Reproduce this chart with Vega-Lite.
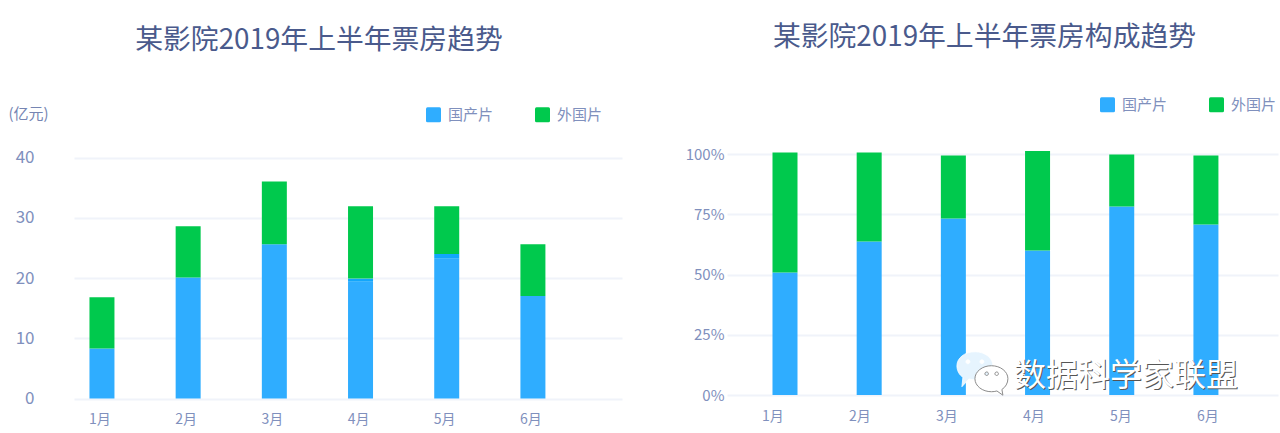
{
  "$schema": "https://vega.github.io/schema/vega-lite/v6.json",
  "background": "white",
  "padding": {"left": 7, "top": 23, "right": 2, "bottom": 8},
  "bounds": "flush",
  "spacing": 105,
  "resolve": {"legend": {"color": "independent"}},
  "config": {
    "font": "Noto Sans CJK SC",
    "view": {"stroke": null},
    "title": {"font": "Noto Sans CJK SC", "fontSize": 27.8, "fontWeight": 400, "color": "#4a5a8c", "anchor": "middle"},
    "axis": {"labelFont": "Noto Sans CJK SC", "titleFont": "Noto Sans CJK SC", "labelColor": "#8090bd", "titleColor": "#7685b3", "domain": false, "ticks": false, "gridColor": "#f0f3fa", "gridWidth": 2},
    "legend": {"labelFont": "Noto Sans CJK SC", "labelColor": "#8090bd", "labelFontSize": 15}
  },
  "datasets": {
    "boxoffice": [
      {"月份": "1月", "类型": "国产片", "票房": 8.3, "占比": 50.8},
      {"月份": "1月", "类型": "外国片", "票房": 8.5, "占比": 49.8},
      {"月份": "2月", "类型": "国产片", "票房": 20.1, "占比": 63.7},
      {"月份": "2月", "类型": "外国片", "票房": 8.5, "占比": 36.9},
      {"月份": "3月", "类型": "国产片", "票房": 25.6, "占比": 73.2},
      {"月份": "3月", "类型": "外国片", "票房": 10.4, "占比": 26.2},
      {"月份": "4月", "类型": "国产片", "票房": 19.4, "占比": 60},
      {"月份": "4月", "类型": "国产片叠加", "票房": 0.5, "占比": 0},
      {"月份": "4月", "类型": "外国片", "票房": 12, "占比": 41.2},
      {"月份": "5月", "类型": "国产片", "票房": 23.2, "占比": 78.2},
      {"月份": "5月", "类型": "国产片叠加", "票房": 0.8, "占比": 0},
      {"月份": "5月", "类型": "外国片", "票房": 7.9, "占比": 21.6},
      {"月份": "6月", "类型": "国产片", "票房": 17, "占比": 70.7},
      {"月份": "6月", "类型": "外国片", "票房": 8.6, "占比": 28.7}
    ],
    "watermark": [
      {"月份": "4月", "占比": 8, "文字": "数据科学家联盟"}
    ]
  },
  "hconcat": [
    {
      "width": 548,
      "height": 243.5,
      "title": {"text": "某影院2019年上半年票房趋势", "offset": 0, "dx": -29, "dy": -51.5},
      "data": {"name": "boxoffice"},
      "mark": {"type": "bar"},
      "encoding": {
        "x": {
          "field": "月份",
          "type": "ordinal",
          "sort": null,
          "title": null,
          "scale": {"domain": ["1月", "2月", "3月", "4月", "5月", "6月"], "paddingInner": 0.71, "paddingOuter": 0.534, "align": 0.168},
          "axis": {"labelAngle": 0, "labelFontSize": 14, "labelPadding": 15, "labelOffset": -2}
        },
        "y": {
          "field": "票房",
          "type": "quantitative",
          "stack": "zero",
          "scale": {"domain": [0, 40], "range": [244.5, 3.5]},
          "axis": {"values": [0, 10, 20, 30, 40], "labelFontSize": 17, "labelPadding": 40, "title": "(亿元)", "titleAngle": 0, "titleFontSize": 15, "titleFontWeight": 400, "titleX": -46, "titleY": -33},
          "title": "(亿元)"
        },
        "color": {
          "field": "类型",
          "type": "nominal",
          "scale": {"domain": ["外国片", "国产片叠加", "国产片"], "range": ["#00c94d", "#12a6fb", "#2fadff"]},
          "legend": {"orient": "none", "legendX": 352, "legendY": -47, "direction": "horizontal", "title": null, "values": ["国产片", "外国片"], "symbolType": "M-0.8,-1 H0.8 Q1,-1 1,-0.8 V0.8 Q1,1 0.8,1 H-0.8 Q-1,1 -1,0.8 V-0.8 Q-1,-1 -0.8,-1 Z", "symbolSize": 225, "symbolStrokeWidth": 0, "columnPadding": 41, "labelOffset": 7}
        },
        "order": {"field": "类型", "sort": "ascending"}
      }
    },
    {
      "width": 551,
      "height": 243.5,
      "title": {"text": "某影院2019年上半年票房构成趋势", "offset": 0, "dx": -18, "dy": -45.5},
      "resolve": {"scale": {"x": "independent"}},
      "layer": [
        {
          "data": {"name": "boxoffice"},
          "mark": {"type": "bar"},
          "encoding": {
            "x": {
              "field": "月份",
              "type": "ordinal",
              "sort": null,
              "title": null,
              "scale": {"domain": ["1月", "2月", "3月", "4月", "5月", "6月"], "paddingInner": 0.703, "paddingOuter": 0.624, "align": 0.433},
              "axis": null
            },
            "y": {
              "field": "占比",
              "type": "quantitative",
              "stack": "zero",
              "title": null,
              "scale": {"domain": [0, 100], "range": [241, 0]},
              "axis": {"values": [0, 25, 50, 75, 100], "labelExpr": "datum.value + '%'", "labelFontSize": 15, "labelPadding": 3}
            },
            "color": {
              "field": "类型",
              "type": "nominal",
              "scale": {"domain": ["外国片", "国产片叠加", "国产片"], "range": ["#00c94d", "#12a6fb", "#2fadff"]},
              "legend": {"orient": "none", "legendX": 373, "legendY": -57, "direction": "horizontal", "title": null, "values": ["国产片", "外国片"], "symbolType": "M-0.8,-1 H0.8 Q1,-1 1,-0.8 V0.8 Q1,1 0.8,1 H-0.8 Q-1,1 -1,0.8 V-0.8 Q-1,-1 -0.8,-1 Z", "symbolSize": 225, "symbolStrokeWidth": 0, "columnPadding": 41, "labelOffset": 7}
            },
            "order": {"field": "类型", "sort": "ascending"}
          }
        },
        {
          "data": {"name": "watermark"},
          "mark": {"type": "text", "align": "left", "baseline": "middle", "fontSize": 32, "color": "#555555", "dx": -18, "dy": 1},
          "encoding": {
            "x": {
              "field": "月份",
              "type": "ordinal",
              "title": null,
              "scale": {"type": "band", "domain": ["1月", "2月", "3月", "4月", "5月", "6月"], "paddingInner": 0, "paddingOuter": 0.167, "align": 0.05},
              "axis": {"labelAngle": 0, "labelFontSize": 14, "labelPadding": 12, "labelOffset": 1}
            },
            "y": {"field": "占比", "type": "quantitative"},
            "text": {"field": "文字"}
          }
        },
        {
          "data": {"name": "watermark"},
          "mark": {"type": "text", "align": "left", "baseline": "middle", "fontSize": 32, "color": "#ffffff", "dx": -19, "dy": 0},
          "encoding": {
            "x": {
              "field": "月份",
              "type": "ordinal",
              "scale": {"type": "band", "domain": ["1月", "2月", "3月", "4月", "5月", "6月"], "paddingInner": 0, "paddingOuter": 0.167, "align": 0.05},
              "axis": null
            },
            "y": {"field": "占比", "type": "quantitative"},
            "text": {"field": "文字"}
          }
        },
        {
          "data": {"name": "watermark"},
          "mark": {
            "type": "point",
            "filled": true,
            "fill": "#e6f4fe",
            "stroke": "#ffffff",
            "strokeWidth": 0.8,
            "opacity": 1,
            "size": 100,
            "shape": "M-15.2,-2 C-15.2,-3.55 -13.6,-4.8 -11.6,-4.8 C-9.6,-4.8 -8,-3.55 -8,-2 C-8,-0.45 -9.6,0.8 -11.6,0.8 C-12,0.8 -12.4,0.75 -12.8,0.65 L-14.2,2.2 L-14,0.3 C-14.8,-0.2 -15.2,-1.1 -15.2,-2 Z M-13.4,-2.8 a0.4,0.4 0 1,0 0.8,0 a0.4,0.4 0 1,0 -0.8,0 Z M-10.6,-2.8 a0.4,0.4 0 1,0 0.8,0 a0.4,0.4 0 1,0 -0.8,0 Z"
          },
          "encoding": {
            "x": {
              "field": "月份",
              "type": "ordinal",
              "scale": {"type": "band", "domain": ["1月", "2月", "3月", "4月", "5月", "6月"], "paddingInner": 0, "paddingOuter": 0.167, "align": 0.05},
              "axis": null
            },
            "y": {"field": "占比", "type": "quantitative"}
          }
        },
        {
          "data": {"name": "watermark"},
          "mark": {
            "type": "point",
            "filled": true,
            "fill": "#ffffff",
            "stroke": "#8c8c8c",
            "strokeWidth": 1,
            "opacity": 1,
            "size": 100,
            "shape": "M-11.6,0.6 C-11.6,-0.85 -10.1,-2 -8.3,-2 C-6.5,-2 -5,-0.85 -5,0.6 C-5,1.5 -5.5,2.3 -6.2,2.75 L-6,3.9 L-7.2,3.05 C-7.6,3.15 -7.9,3.2 -8.3,3.2 C-10.1,3.2 -11.6,2.05 -11.6,0.6 Z M-9.6,-0.4 a0.35,0.35 0 1,0 0.7,0 a0.35,0.35 0 1,0 -0.7,0 Z M-7.6,-0.4 a0.35,0.35 0 1,0 0.7,0 a0.35,0.35 0 1,0 -0.7,0 Z"
          },
          "encoding": {
            "x": {
              "field": "月份",
              "type": "ordinal",
              "scale": {"type": "band", "domain": ["1月", "2月", "3月", "4月", "5月", "6月"], "paddingInner": 0, "paddingOuter": 0.167, "align": 0.05},
              "axis": null
            },
            "y": {"field": "占比", "type": "quantitative"}
          }
        }
      ]
    }
  ]
}
